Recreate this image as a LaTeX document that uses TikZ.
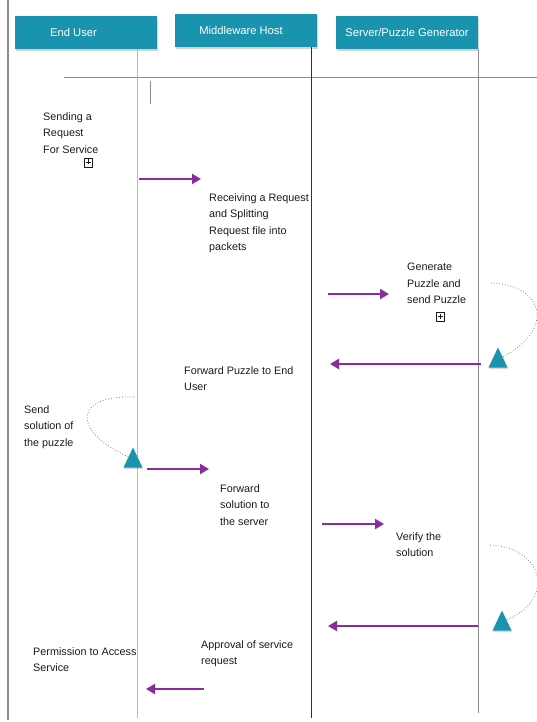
\documentclass[tikz,border=0pt]{standalone}
\usepackage{fontspec}
\setmainfont{Liberation Sans}
\usetikzlibrary{arrows.meta,positioning,shapes.geometric,shadows}
\definecolor{HeadTeal}{HTML}{1A93AE}
\definecolor{MsgPurple}{HTML}{8A2BA0}
\definecolor{LineGreen}{HTML}{4FCF4F}
\definecolor{TextDark}{HTML}{1A1A1A}
\definecolor{RuleGray}{HTML}{8C8C8C}

\tikzset{
    header/.style={fill=HeadTeal, text=white, minimum width=142pt, minimum height=33pt,
        font=\fontsize{11.2}{13}\selectfont,
        drop shadow={shadow xshift=1pt, shadow yshift=-2pt, opacity=0.35}},
    msg/.style={draw=MsgPurple, line width=2.6pt, -{Triangle[length=9pt,width=10pt]}},
    note/.style={anchor=north west, align=left, inner sep=0pt, text=TextDark,
        font=\fontsize{10.8}{16.5}\selectfont},
    turn/.style={isosceles triangle, shape border rotate=90, isosceles triangle stretches,
        minimum width=19pt, minimum height=20pt, inner sep=0pt, fill=HeadTeal,
        drop shadow={shadow xshift=0.5pt, shadow yshift=-1.5pt, opacity=0.3}},
    selfcall/.style={draw=gray, dotted, line width=0.8pt},
    expand/.style={draw=TextDark, minimum width=8pt, minimum height=9pt, inner sep=0pt, line width=0.6pt}
}

\begin{document}
\begin{tikzpicture}[x=1pt,y=-1pt]
    \useasboundingbox (0,0) rectangle (537,722);

    % frame
    \draw[RuleGray, line width=1.4pt] (8,0) -- (8,720);
    \draw[RuleGray, line width=0.8pt] (64,77) -- (537,77);
    \draw[RuleGray, line width=0.8pt] (150,81) -- (150,104);

    % participants
    \node[header] (user) at (85.5,32.5) {\hspace*{-24pt}End User};
    \node[header] (mid) at (246,30.5) {\hspace*{-10pt}Middleware Host};
    \node[header] (srv) at (407,32.5) {Server/Puzzle Generator};

    % lifelines
    \coordinate (userEnd) at (137,718);
    \coordinate (midEnd) at (311,718);
    \coordinate (srvEnd) at (478,713);
    \draw[LineGreen!70, line width=1pt] (user.south -| userEnd) -- (userEnd);
    \draw[black!80, line width=0.7pt] (mid.south -| midEnd) -- (midEnd);
    \draw[RuleGray, line width=0.7pt] (srv.south -| srvEnd) -- (srvEnd);

    % step texts
    \node[note] (sendReq) at (43,112) {Sending a\\Request\\For Service};
    \node[note] (recv) at (209,193) {Receiving a Request\\and Splitting\\Request file into\\packets};
    \node[note] (gen) at (407,263) {Generate\\Puzzle and\\send Puzzle};
    \node[note] (fwdPz) at (184,366) {Forward Puzzle to End\\User};
    \node[note] (sendSol) at (24,405) {Send\\solution of\\the puzzle};
    \node[note] (fwdSol) at (220,484) {Forward\\solution to\\the server};
    \node[note] (verify) at (396,532) {Verify the\\solution};
    \node[note] (approve) at (201,640) {Approval of service\\request};
    \node[note] (permit) at (33,647) {Permission to Access\\Service};

    % expand icons
    \node[expand] (exp1) at (88,163) {};
    \draw[TextDark, line width=0.6pt] (85.5,162) -- (90.5,162) (88,159.5) -- (88,164.5);
    \node[expand] (exp2) at (440,317) {};
    \draw[TextDark, line width=0.6pt] (437.5,316) -- (442.5,316) (440,313.5) -- (440,318.5);

    % turn markers
    \node[turn, anchor=apex] (tri1) at (498,347) {};
    \node[turn, anchor=apex] (tri2) at (133,447) {};
    \node[turn, anchor=apex] (tri3) at (502,610) {};

    % self calls
    \coordinate (sc1) at (491,283);
    \coordinate (sc2) at (134,397);
    \coordinate (sc3) at (490,545);
    \draw[selfcall] (sc1) .. controls (545,285) and (555,330) .. (tri1.45);
    \draw[selfcall] (sc2) .. controls (75,395) and (70,430) .. (tri2.135);
    \draw[selfcall] (sc3) .. controls (545,548) and (555,600) .. (tri3.45);

    % messages
    \coordinate (m1a) at (139,179);  \coordinate (m1b) at (201,179);
    \coordinate (m2a) at (328,294);  \coordinate (m2b) at (389,294);
    \coordinate (m3a) at (481,364);  \coordinate (m3b) at (330,364);
    \coordinate (m4a) at (147,469);  \coordinate (m4b) at (209,469);
    \coordinate (m5a) at (322,524);  \coordinate (m5b) at (384,524);
    \coordinate (m6a) at (478,626);  \coordinate (m6b) at (328,626);
    \coordinate (m7a) at (204,689);  \coordinate (m7b) at (146,689);
    \draw[msg] (m1a) -- (m1b);
    \draw[msg] (m2a) -- (m2b);
    \draw[msg] (m3a) -- (m3b);
    \draw[msg] (m4a) -- (m4b);
    \draw[msg] (m5a) -- (m5b);
    \draw[msg] (m6a) -- (m6b);
    \draw[msg] (m7a) -- (m7b);
\end{tikzpicture}
\end{document}
